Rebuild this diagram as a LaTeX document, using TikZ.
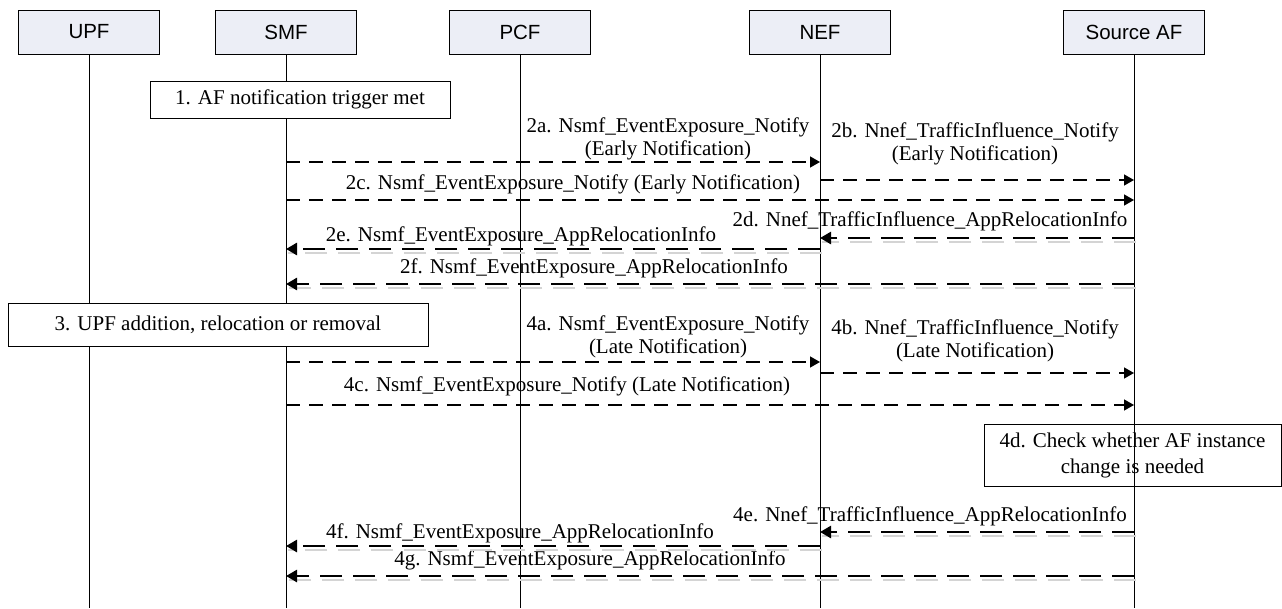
\documentclass[tikz,border=0pt]{standalone}
\usepackage{fontspec}
\setmainfont{Liberation Serif}
\newfontfamily\hdrfont{Liberation Sans}
\usetikzlibrary{arrows.meta}
\definecolor{hdrfill}{RGB}{236,238,246}
\definecolor{shadowgray}{RGB}{212,212,212}
\begin{document}
\begin{tikzpicture}[x=1pt,y=-1pt,
  lifeline/.style={line width=0.9pt},
  hdr/.style={draw, line width=0.9pt, fill=hdrfill, minimum width=141pt, minimum height=44pt, inner sep=0pt, font=\hdrfont\fontsize{20.5}{24}\selectfont},
  stepbox/.style={draw, line width=0.9pt, inner sep=0pt, align=center, font=\fontsize{21}{26}\selectfont},
  lbl/.style={inner sep=0pt, align=center, font=\fontsize{21}{22.5}\selectfont},
  fwd/.style={line width=1.4pt, dash pattern=on 14pt off 9pt, -{Triangle[length=10pt,width=11pt]}},
  bwd/.style={line width=2.6pt, dash pattern=on 22pt off 11pt, -{Triangle[length=11pt,width=12pt]},
     preaction={draw=shadowgray, line width=2.4pt, dash pattern=on 22pt off 11pt, arrows=-, transform canvas={shift={(2,4)}}}}
]
\useasboundingbox (0,0) rectangle (1282,608);
\fill[white] (0,0) rectangle (1282,608);

% headers
\node[hdr] (upf) at (89,32) {UPF};
\node[hdr] (smf) at (286,32) {SMF};
\node[hdr] (pcf) at (520,32) {PCF};
\node[hdr] (nef) at (820,32) {NEF};
\node[hdr] (af) at (1134,32) {Source AF};

% lifelines
\coordinate (upfE) at (89,608);
\coordinate (smfE) at (286,608);
\coordinate (pcfE) at (520,608);
\coordinate (nefE) at (820,608);
\coordinate (afE) at (1134,608);
\draw[lifeline] (upf.south) -- (upfE);
\draw[lifeline] (smf.south) -- (smfE);
\draw[lifeline] (pcf.south) -- (pcfE);
\draw[lifeline] (nef.south) -- (nefE);
\draw[lifeline] (af.south) -- (afE);

% step boxes
\node[stepbox, fill=white, minimum width=300pt, minimum height=37pt] (b1) at (300,99.5) {1. AF notification trigger met};
\node[stepbox, fill=white, minimum width=420pt, minimum height=43pt] (b3) at (218,324.5) {3. UPF addition, relocation or removal};
\node[stepbox, minimum width=297pt, minimum height=62pt] (b4d) at (1132.5,455) {4d. Check whether AF instance\\change is needed};

% arrow end points
\coordinate (s2a) at (286,162); \coordinate (n2a) at (820,162);
\coordinate (n2b) at (820,180); \coordinate (f2b) at (1134,180);
\coordinate (s2c) at (286,200); \coordinate (f2c) at (1134,200);
\coordinate (f2d) at (1134,238); \coordinate (n2d) at (820,238);
\coordinate (n2e) at (820,249); \coordinate (s2e) at (286,249);
\coordinate (f2f) at (1134,284); \coordinate (s2f) at (286,284);
\coordinate (s4a) at (286,362); \coordinate (n4a) at (820,362);
\coordinate (n4b) at (820,373); \coordinate (f4b) at (1134,373);
\coordinate (s4c) at (286,405); \coordinate (f4c) at (1134,405);
\coordinate (f4e) at (1134,532); \coordinate (n4e) at (820,532);
\coordinate (n4f) at (820,546); \coordinate (s4f) at (286,546);
\coordinate (f4g) at (1134,576); \coordinate (s4g) at (286,576);

% labels
\node[lbl] (l2a) at (668,139) {2a. Nsmf\_EventExposure\_Notify\\(Early Notification)};
\node[lbl] (l2b) at (975,144) {2b. Nnef\_TrafficInfluence\_Notify\\(Early Notification)};
\node[lbl] (l2c) at (573,184) {2c. Nsmf\_EventExposure\_Notify (Early Notification)};
\node[lbl] (l2d) at (930,221) {2d. Nnef\_TrafficInfluence\_AppRelocationInfo};
\node[lbl] (l2e) at (521,236) {2e. Nsmf\_EventExposure\_AppRelocationInfo};
\node[lbl] (l2f) at (594,268) {2f. Nsmf\_EventExposure\_AppRelocationInfo};
\node[lbl] (l4a) at (668,337) {4a. Nsmf\_EventExposure\_Notify\\(Late Notification)};
\node[lbl] (l4b) at (975,341) {4b. Nnef\_TrafficInfluence\_Notify\\(Late Notification)};
\node[lbl] (l4c) at (567,386) {4c. Nsmf\_EventExposure\_Notify (Late Notification)};
\node[lbl] (l4e) at (930,516) {4e. Nnef\_TrafficInfluence\_AppRelocationInfo};
\node[lbl] (l4f) at (520,533) {4f. Nsmf\_EventExposure\_AppRelocationInfo};
\node[lbl] (l4g) at (590,560) {4g. Nsmf\_EventExposure\_AppRelocationInfo};

% messages
\draw[fwd] (s2a) -- (n2a);
\draw[fwd] (n2b) -- (f2b);
\draw[fwd] (s2c) -- (f2c);
\draw[bwd] (f2d) -- (n2d);
\draw[bwd] (n2e) -- (s2e);
\draw[bwd] (f2f) -- (s2f);
\draw[fwd] (s4a) -- (n4a);
\draw[fwd] (n4b) -- (f4b);
\draw[fwd] (s4c) -- (f4c);
\draw[bwd] (f4e) -- (n4e);
\draw[bwd] (n4f) -- (s4f);
\draw[bwd] (f4g) -- (s4g);
\end{tikzpicture}
\end{document}
